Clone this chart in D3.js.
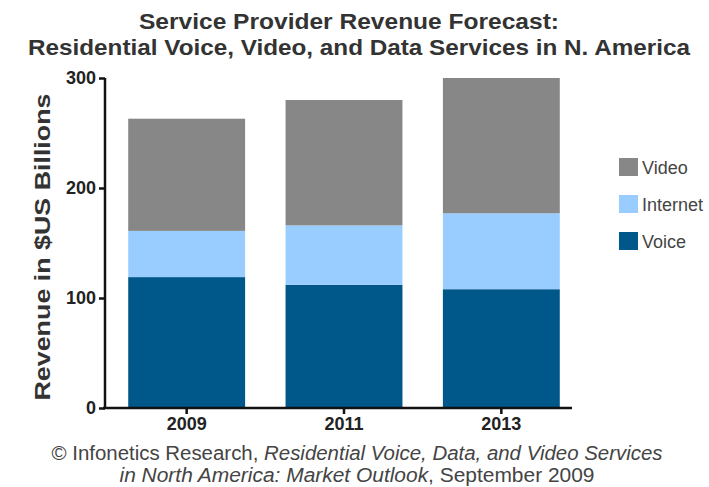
<!DOCTYPE html>
<html><head><meta charset="utf-8">
<script src="https://cdn.jsdelivr.net/npm/d3@7"></script>
<style>body{margin:0;background:#fff;} text{font-family:"Liberation Sans",Arial,sans-serif;}</style>
</head><body>
<svg id="c" width="709" height="487"></svg>
<script>
const years = ["2009","2011","2013"];
const voice = [119, 112, 108];
const internet = [42, 54, 69];
const video = [102, 114, 123];
const seriesNames = ["Voice","Internet","Video"];
const colors = {Voice:"#00578a", Internet:"#99ccff", Video:"#878787"};
const yTicks = [0,100,200,300];

const data = years.map((y,i)=>({year:y, Voice:voice[i], Internet:internet[i], Video:video[i]}));
const svg = d3.select("#c");
const x = d3.scaleBand().domain(years).range([108,580]).paddingInner(0.257).paddingOuter(0.1285);
const y = d3.scaleLinear().domain([0,300]).range([408,78]);

const stack = d3.stack().keys(seriesNames)(data);
svg.append("g").selectAll("g").data(stack).join("g")
  .attr("fill", d=>colors[d.key])
  .selectAll("rect").data(d=>d).join("rect")
  .attr("x", d=>x(d.data.year)).attr("width", x.bandwidth())
  .attr("y", d=>y(d[1])).attr("height", d=>y(d[0])-y(d[1]));

// axes
const yAxis = svg.append("g").attr("transform","translate(105,0)")
  .call(d3.axisLeft(y).tickValues(yTicks).tickSize(6).tickPadding(3));
yAxis.select(".domain").remove();
yAxis.append("line").attr("x1",0).attr("x2",0).attr("y1",y(0)).attr("y2",y(300)).attr("stroke","#111").attr("stroke-width",2.5);
yAxis.selectAll(".tick line").attr("stroke","#111").attr("stroke-width",2.5);
yAxis.selectAll(".tick text").attr("font-size",18).attr("font-weight","bold").attr("fill","#222").attr("font-family","Liberation Sans, Arial, sans-serif");

const xAxis = svg.append("g").attr("transform","translate(0,408)")
  .call(d3.axisBottom(x).tickSize(6).tickPadding(3));
xAxis.select(".domain").remove();
xAxis.append("line").attr("x1",103).attr("x2",572).attr("y1",0).attr("y2",0).attr("stroke","#111").attr("stroke-width",2.5);
xAxis.selectAll(".tick line").attr("stroke","#111").attr("stroke-width",2.5);
xAxis.selectAll(".tick text").attr("font-size",18).attr("font-weight","bold").attr("fill","#222").attr("font-family","Liberation Sans, Arial, sans-serif");

// titles
svg.append("text").attr("x",349).attr("y",29).attr("text-anchor","middle").attr("font-size",22).attr("font-weight","bold").attr("fill","#333")
  .attr("textLength",420).attr("lengthAdjust","spacingAndGlyphs")
  .text("Service Provider Revenue Forecast:");
svg.append("text").attr("x",359).attr("y",55).attr("text-anchor","middle").attr("font-size",22).attr("font-weight","bold").attr("fill","#333")
  .attr("textLength",662).attr("lengthAdjust","spacingAndGlyphs")
  .text("Residential Voice, Video, and Data Services in N. America");

svg.append("text").attr("transform","translate(50,247) rotate(-90)").attr("text-anchor","middle").attr("font-size",22).attr("font-weight","bold").attr("fill","#333")
  .attr("textLength",307).attr("lengthAdjust","spacingAndGlyphs")
  .text("Revenue in $US Billions");

// legend
const legendOrder = ["Video","Internet","Voice"];
const lg = svg.append("g");
legendOrder.forEach((k,i)=>{
  const yy = 158 + i*37;
  lg.append("rect").attr("x",619).attr("y",yy).attr("width",19).attr("height",18).attr("fill",colors[k]);
  lg.append("text").attr("x",642).attr("y",yy+16).attr("font-size",18).attr("fill","#444").text(k);
});

// footer
const f1 = svg.append("text").attr("x",357).attr("y",460).attr("text-anchor","middle").attr("font-size",20).attr("fill","#444")
  .attr("textLength",611).attr("lengthAdjust","spacingAndGlyphs");
f1.append("tspan").text("© Infonetics Research, ");
f1.append("tspan").attr("font-style","italic").text("Residential Voice, Data, and Video Services");
const f2 = svg.append("text").attr("x",357).attr("y",482).attr("text-anchor","middle").attr("font-size",20).attr("fill","#444")
  .attr("textLength",475).attr("lengthAdjust","spacingAndGlyphs");
f2.append("tspan").attr("font-style","italic").text("in North America: Market Outlook");
f2.append("tspan").text(", September 2009");
</script>
</body></html>
